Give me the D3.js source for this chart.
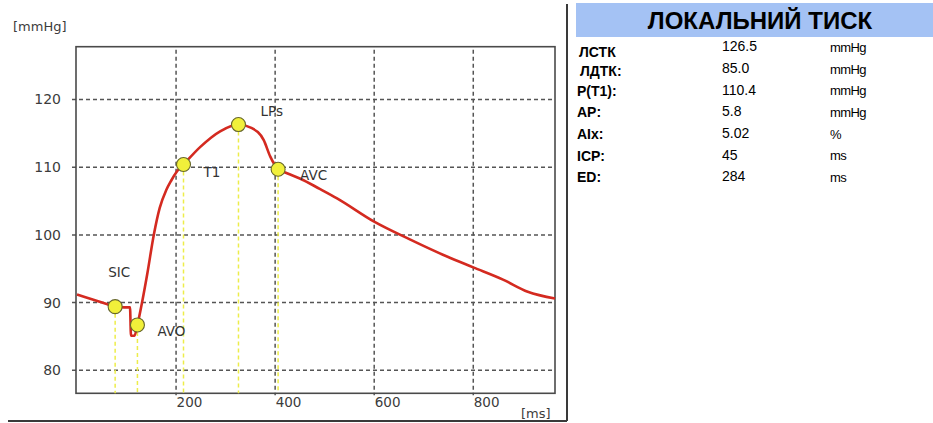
<!DOCTYPE html>
<html>
<head>
<meta charset="utf-8">
<script src="https://cdn.jsdelivr.net/npm/d3@7"></script>
<style>
  html, body { margin: 0; padding: 0; background: #fff; }
  svg { display: block; }
</style>
</head>
<body>
<svg id="chart" width="933" height="423"></svg>
<script>
// ---- data ----
const timeMs = [0, 30, 60, 77, 95, 107, 109, 116, 122, 131, 142, 155, 167, 180, 190, 202, 215, 249, 289, 326, 352, 377, 390, 406, 424, 451, 490, 525, 599, 673, 747, 800, 860, 910, 965];
const pressure = [91.2, 90.5, 89.8, 89.4, 89.3, 89.3, 85.1, 85.1, 86.7, 89.9, 94.3, 100.0, 104.0, 106.6, 108.0, 109.4, 110.4, 113.0, 115.3, 116.3, 115.8, 114.0, 111.6, 109.7, 109.1, 108.3, 106.8, 105.4, 102.0, 99.3, 96.8, 95.2, 93.4, 91.6, 90.6];

const markerNames = ["SIC", "AVO", "T1", "LPs", "AVC"];
const markerTime = [77, 122, 215, 326, 406];
const markerPressure = [89.4, 86.7, 110.4, 116.3, 109.7];

const xTicks = [200, 400, 600, 800];
const yTicks = [80, 90, 100, 110, 120];

const tableTitle = "ЛОКАЛЬНИЙ ТИСК";
const paramLabels = ["ЛСТК", "ЛДТК:", "P(T1):", "AP:", "AIx:", "ICP:", "ED:"];
const paramValues = ["126.5", "85.0", "110.4", "5.8", "5.02", "45", "284"];
const paramUnits = ["mmHg", "mmHg", "mmHg", "mmHg", "%", "ms", "ms"];

// ---- layout ----
const svg = d3.select("#chart");
const L = 77, R = 555, T = 46.7, B = 393.3;
const x = d3.scaleLinear().domain([0, 965]).range([L, R]);
const y = d3.scaleLinear().domain([76.6, 127.8]).range([B, T]);
const font = "'DejaVu Sans', Verdana, sans-serif";

// outer frame (right & bottom)
svg.append("line").attr("x1", 8).attr("x2", 567).attr("y1", 421).attr("y2", 421)
  .attr("stroke", "#3a3a3a").attr("stroke-width", 2);
svg.append("line").attr("x1", 567).attr("x2", 567).attr("y1", 4).attr("y2", 421)
  .attr("stroke", "#3a3a3a").attr("stroke-width", 2);

// grid
const grid = svg.append("g");
grid.selectAll("line.h").data(yTicks).enter().append("line")
  .attr("x1", L - 5).attr("x2", R).attr("y1", d => y(d)).attr("y2", d => y(d))
  .attr("stroke", "#555").attr("stroke-width", 1.5).attr("stroke-dasharray", "4,3");
grid.selectAll("line.v").data(xTicks).enter().append("line")
  .attr("x1", d => x(d)).attr("x2", d => x(d)).attr("y1", T + 3).attr("y2", B + 2)
  .attr("stroke", "#555").attr("stroke-width", 1.5).attr("stroke-dasharray", "4,3");

// axes via d3 (labels only)
const yAxis = d3.axisLeft(y).tickValues(yTicks).tickSize(0).tickPadding(16);
const gy = svg.append("g").attr("transform", `translate(${L},0)`).call(yAxis);
gy.select(".domain").remove();
gy.selectAll("text").attr("font-family", font).attr("font-size", 14).attr("fill", "#3c3c3c");

const xAxis = d3.axisBottom(x).tickValues(xTicks).tickSize(0).tickPadding(4);
const gx = svg.append("g").attr("transform", `translate(0,${B})`).call(xAxis);
gx.select(".domain").remove();
gx.selectAll("text").attr("font-family", font).attr("font-size", 13.5).attr("fill", "#3c3c3c")
  .attr("text-anchor", "start");

// frame
svg.append("rect").attr("x", L - 1).attr("y", T).attr("width", R - L + 1).attr("height", B - T)
  .attr("fill", "none").attr("stroke", "#4a4a4a").attr("stroke-width", 1.6);

// unit labels
svg.append("text").attr("x", 13).attr("y", 31).text("[mmHg]")
  .attr("font-family", font).attr("font-size", 13).attr("fill", "#3c3c3c");
svg.append("text").attr("x", 521).attr("y", 418).text("[ms]")
  .attr("font-family", font).attr("font-size", 13).attr("fill", "#3c3c3c");

// marker drop lines
const markers = markerNames.map((n, i) => ({ name: n, t: markerTime[i], p: markerPressure[i] }));
svg.append("g").selectAll("line").data(markers).enter().append("line")
  .attr("x1", d => x(d.t)).attr("x2", d => x(d.t))
  .attr("y1", d => y(d.p)).attr("y2", B)
  .attr("stroke", "#eded4a").attr("stroke-width", 1.5).attr("stroke-dasharray", "4,3");

// curve
const pts = timeMs.map((t, i) => [t, pressure[i]]);
const line = d3.line().x(d => x(d[0])).y(d => y(d[1])).curve(d3.curveMonotoneX);
svg.append("path").datum(pts).attr("d", line)
  .attr("fill", "none").attr("stroke", "#d42a20").attr("stroke-width", 2.6)
  .attr("stroke-linejoin", "round");

// markers
svg.append("g").selectAll("circle").data(markers).enter().append("circle")
  .attr("cx", d => x(d.t)).attr("cy", d => y(d.p)).attr("r", 7)
  .attr("fill", "#f1f03a").attr("stroke", "#66662a").attr("stroke-width", 1.1);

// marker labels (offset in px from marker centre)
const labelOffset = { SIC: [-7, -34], AVO: [20, 7], T1: [20, 9], LPs: [22, -13], AVC: [22, 7] };
svg.append("g").selectAll("text").data(markers).enter().append("text")
  .attr("x", d => x(d.t) + labelOffset[d.name][0])
  .attr("y", d => y(d.p) + labelOffset[d.name][1])
  .text(d => d.name)
  .attr("font-family", font).attr("font-size", 13.5).attr("fill", "#333")
  .attr("dominant-baseline", "middle");

// ---- right panel ----
svg.append("rect").attr("x", 576).attr("y", 3).attr("width", 357).attr("height", 34).attr("fill", "#a4c2f4");
svg.append("text").attr("x", 760).attr("y", 29).attr("text-anchor", "middle").text(tableTitle)
  .attr("font-family", "'Liberation Sans', Arial, sans-serif").attr("font-weight", "bold")
  .attr("font-size", 24).attr("fill", "#000");

const rowY = [48.5, 70.3, 91.8, 113.5, 135.5, 157, 178.7];
const labelDy = [4.5, 1.5, 0, 0, 0, 0, 0];
const labelDx = [2, 3, 0, 0, 0, 0, 0];
const tbl = svg.append("g").attr("font-family", "'Liberation Sans', Arial, sans-serif").attr("font-size", 14);
tbl.selectAll("text.l").data(paramLabels).enter().append("text")
  .attr("x", (d, i) => 577 + labelDx[i]).attr("y", (d, i) => rowY[i] + labelDy[i])
  .attr("dominant-baseline", "middle").attr("font-weight", "bold").text(d => d);
tbl.selectAll("text.v").data(paramValues).enter().append("text")
  .attr("x", 722).attr("y", (d, i) => rowY[i] - 1)
  .attr("dominant-baseline", "middle").text(d => d);
tbl.selectAll("text.u").data(paramUnits).enter().append("text")
  .attr("x", 830).attr("y", (d, i) => rowY[i])
  .attr("dominant-baseline", "middle").attr("font-size", 13).attr("letter-spacing", -0.6).text(d => d);
</script>
</body>
</html>
